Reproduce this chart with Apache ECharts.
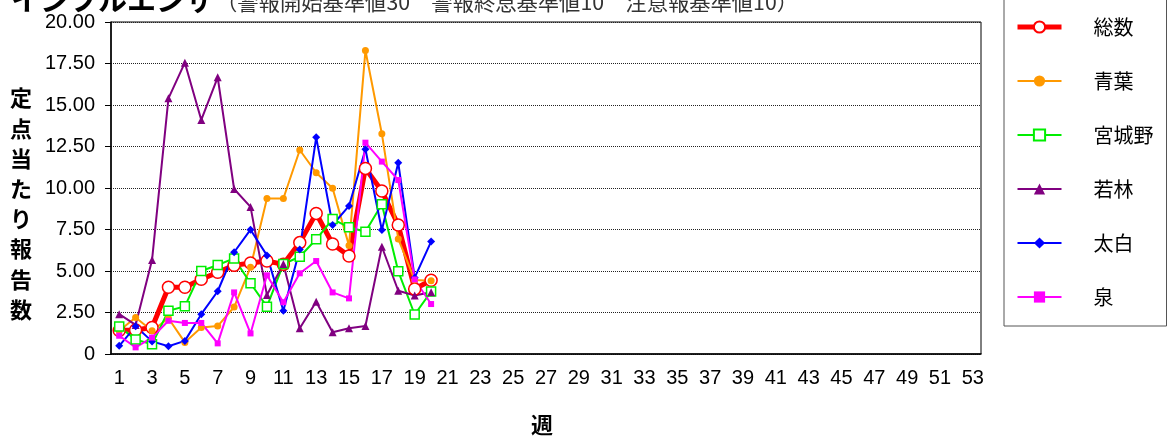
<!DOCTYPE html>
<html><head><meta charset="utf-8">
<script src="https://cdn.jsdelivr.net/npm/echarts@6/dist/echarts.min.js"></script>
<style>html,body{margin:0;padding:0;background:#fff}#c{width:1169px;height:436px}</style>
</head><body><div id="c"></div>
<script>
const weeks = Array.from({length:53},(_,i)=>String(i+1));
const seriesNames = ['総数','青葉','宮城野','若林','太白','泉'];
const total   = [1.42,1.45,1.6,4.02,4.02,4.5,4.92,5.34,5.48,5.6,5.4,6.71,8.47,6.63,5.9,11.18,9.82,7.77,3.92,4.44];
const aoba    = [1.4,2.2,1.4,2.15,0.7,1.6,1.68,2.83,5.23,9.37,9.37,12.29,10.92,9.98,6.53,18.28,13.27,6.93,4.46,4.42];
const miyagino= [1.65,0.87,0.58,2.61,2.87,5.0,5.36,5.76,4.26,2.85,5.42,5.86,6.91,8.13,7.63,7.37,9.02,4.98,2.38,3.76];
const wakabayashi=[2.4,1.75,5.66,15.4,17.55,14.1,16.67,9.94,8.86,3.55,5.42,1.55,3.15,1.31,1.55,1.69,6.46,3.81,3.52,3.72];
const taihaku = [0.49,1.67,0.76,0.47,0.79,2.4,3.78,6.13,7.49,5.94,2.61,6.3,13.05,7.77,8.92,12.33,7.47,11.52,4.6,6.77];
const izumi   = [1.1,0.4,0.99,2.0,1.87,1.87,0.64,3.71,1.24,4.74,3.12,4.86,5.6,3.71,3.35,12.73,11.59,10.48,4.49,3.01];
const yTicks = ['0','2.50','5.00','7.50','10.00','12.50','15.00','17.50','20.00'];

const chart = echarts.init(document.getElementById('c'), null, {renderer:'canvas'});
const numFont = '"Liberation Sans Narrow", "Liberation Sans", Arial, sans-serif';
const cjk = '"Noto Sans CJK JP", sans-serif';
const lineWidths = [5,2,2,2,2,2];
function mk(name, data, color, symbol, size, lw, hollow){
  return {
    name, type:'line', data, symbol, symbolSize:size, showSymbol:true, showAllSymbol:true,
    lineStyle:{color, width:lw},
    itemStyle:{color: hollow ? '#fff' : color, borderColor:color, borderWidth: hollow ? 1.5 : 0},
    emphasis:{disabled:true}, animation:false
  };
}
chart.setOption({
  animation:false,
  grid:{left:111, right:188, top:22, bottom:82, show:true, borderColor:'#000', borderWidth:1},
  xAxis:{
    type:'category', data:weeks, boundaryGap:true,
    axisLine:{lineStyle:{color:'#000', width:1.5}},
    axisTick:{inside:true, length:6, interval:0, lineStyle:{color:'#000'}},
    axisLabel:{interval:1, color:'#000', fontSize:20, fontFamily:numFont, margin:14},
    splitLine:{show:false}
  },
  yAxis:{
    type:'value', min:0, max:20, interval:2.5,
    axisLine:{show:true, lineStyle:{color:'#000', width:1.5}},
    axisTick:{show:true, length:6, lineStyle:{color:'#000'}},
    axisLabel:{color:'#000', fontSize:20, fontFamily:numFont, margin:16,
      formatter:(v)=>yTicks[Math.round(v/2.5)]},
    splitLine:{show:true, lineStyle:{color:'#222', type:'dotted', width:1}}
  },
  legend:{
    orient:'vertical', left:1010, top:12, itemWidth:44, itemHeight:14, itemGap:34,
    data:seriesNames.map((n,i)=>({name:n, lineStyle:{width:lineWidths[i]}})),
    textStyle:{fontSize:20, fontFamily:cjk, color:'#000', padding:[0,0,0,27]}
  },
  graphic:[
    {type:'rect', shape:{x:1004, y:-5, width:162.5, height:331}, style:{fill:'none', stroke:'#555', lineWidth:1}, z:-1},
    {type:'text', x:11, y:0, style:{text:'インフルエンザ', font:'bold 29px "Noto Sans CJK JP"', fill:'#000', verticalAlign:'middle'}},
    {type:'text', x:216, y:2, style:{text:'（警報開始基準値30　警報終息基準値10　注意報基準値10）', font:'21.3px "Noto Sans CJK JP"', fill:'#333', verticalAlign:'middle'}},
    {type:'text', x:21, y:83, style:{text:'定\n点\n当\nた\nり\n報\n告\n数', font:'bold 22px "Noto Sans CJK JP"', lineHeight:30.2, fill:'#000', align:'center', verticalAlign:'top'}},
    {type:'text', x:542, y:425, style:{text:'週', font:'bold 22px "Noto Sans CJK JP"', fill:'#000', align:'center', verticalAlign:'middle'}}
  ],
  series:[
    mk('総数', total, '#ff0000', 'circle', 12, 5, true),
    mk('青葉', aoba, '#ff9900', 'circle', 7, 2, false),
    mk('宮城野', miyagino, '#00ee00', 'rect', 9, 2, true),
    mk('若林', wakabayashi, '#800080', 'triangle', 8, 2, false),
    mk('太白', taihaku, '#0000ff', 'diamond', 8, 2, false),
    mk('泉', izumi, '#ff00ff', 'rect', 6, 2, false)
  ]
});
</script></body></html>
